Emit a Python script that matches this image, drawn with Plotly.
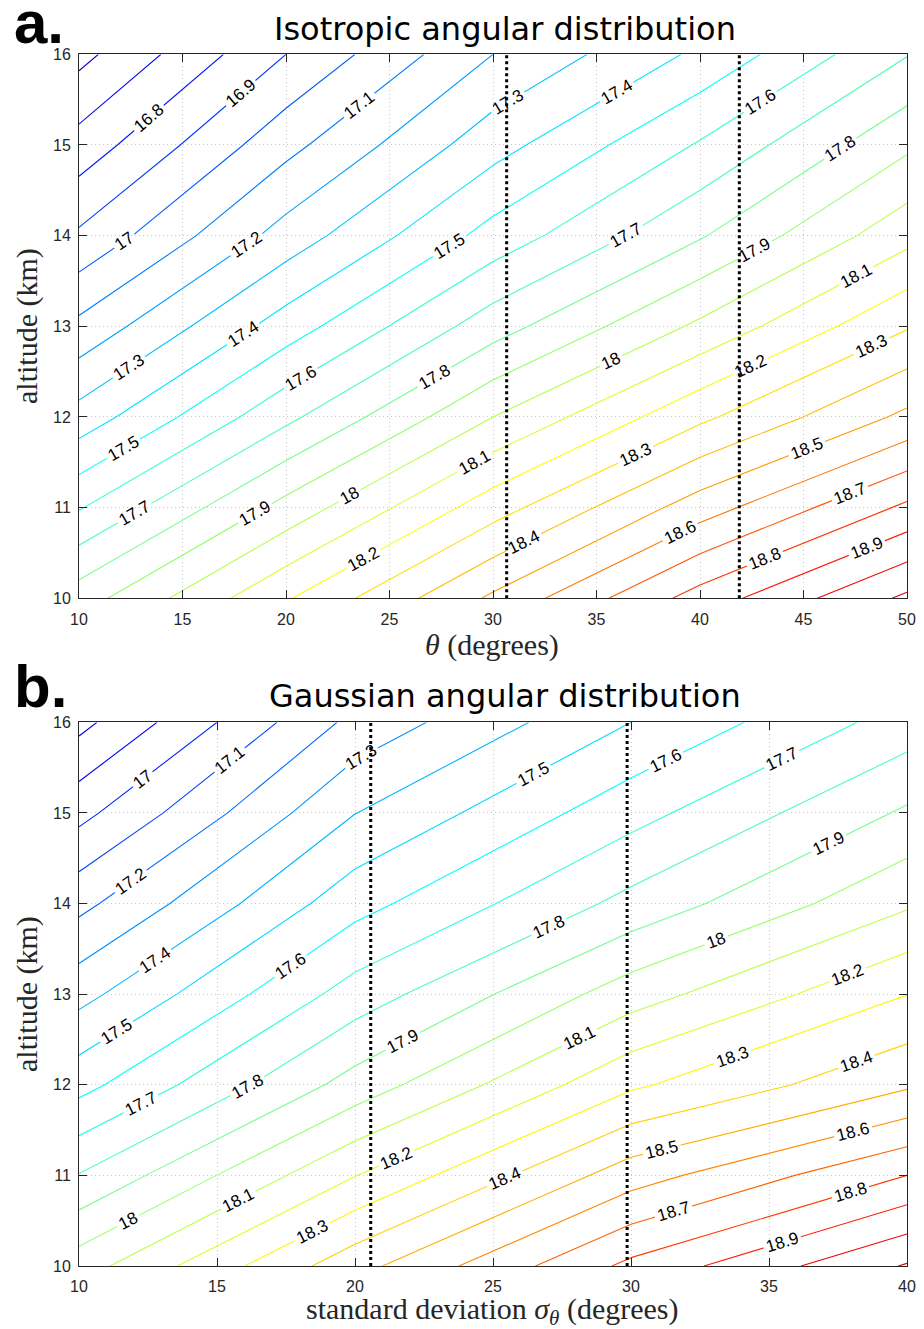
import numpy as np
import plotly.graph_objects as go

# ---------------------------------------------------------------------------
# Data
# ---------------------------------------------------------------------------
altitude_km = [10, 11, 12, 13, 14, 15, 16]

# (a) isotropic angular distribution: rows follow altitude_km, columns theta_deg
theta_deg = [10, 20, 30, 40, 50]
z_isotropic = [
    [17.853, 18.190, 18.518, 18.843, 19.120],
    [17.592, 17.935, 18.256, 18.552, 18.820],
    [17.340, 17.675, 18.000, 18.278, 18.523],
    [17.125, 17.448, 17.755, 18.020, 18.291],
    [16.916, 17.241, 17.538, 17.790, 18.067],
    [16.739, 17.068, 17.360, 17.610, 17.880],
    [16.569, 16.900, 17.200, 17.420, 17.695],
]
iso_marker_theta = [30.66, 41.9]

# (b) Gaussian angular distribution: rows follow altitude_km, columns sigma_deg
sigma_deg = [10, 20, 30, 40]
z_gaussian = [
    [18.054, 18.464, 18.825, 19.109],
    [17.805, 18.197, 18.554, 18.800],
    [17.565, 17.941, 18.283, 18.484],
    [17.366, 17.744, 18.053, 18.298],
    [17.171, 17.563, 17.831, 18.085],
    [16.969, 17.398, 17.663, 17.915],
    [16.770, 17.230, 17.500, 17.744],
]
gauss_marker_sigma = [20.57, 29.86]

iso_xticks = [10, 15, 20, 25, 30, 35, 40, 45, 50]
gauss_xticks = [10, 15, 20, 25, 30, 35, 40]
alt_ticks = [10, 11, 12, 13, 14, 15, 16]

# contour levels every 0.1
LEVEL_START, LEVEL_END, LEVEL_STEP = 16.0, 19.5, 0.1

# ---------------------------------------------------------------------------
# Styling helpers
# ---------------------------------------------------------------------------
W, H = 924, 1329
ML, MR = 79, 17


def px_x(px):
    return (px - ML) / (W - ML - MR)


def px_y(py):
    return 1 - py / H


def jet(t):
    t = min(max(t, 0.0), 1.0)
    r = min(max(1.5 - abs(4 * t - 3), 0), 1)
    g = min(max(1.5 - abs(4 * t - 2), 0), 1)
    b = min(max(1.5 - abs(4 * t - 1), 0), 1)
    return "rgb(%d,%d,%d)" % (round(255 * r), round(255 * g), round(255 * b))


def jet_scale(z, pad=0.2):
    """Jet colours stretched over the (padded) data range, expressed on the level range."""
    zmin, zmax = float(np.min(z)) - pad, float(np.max(z)) + pad
    n = 141
    stops = []
    for k in range(n):
        p = k / (n - 1)
        v = LEVEL_START + p * (LEVEL_END - LEVEL_START)
        stops.append([p, jet((v - zmin) / (zmax - zmin))])
    return stops


TICK_FONT = dict(family="Liberation Sans, Arial, sans-serif", size=16, color="#262626")
LABEL_FONT = dict(family="Liberation Sans, Arial, sans-serif", size=17, color="black")
SERIF = "Liberation Serif, Times New Roman, serif"
SANS = "DejaVu Sans, sans-serif"


def contour(x, z, xa, ya):
    return go.Contour(
        x=x, y=altitude_km, z=z, xaxis=xa, yaxis=ya,
        autocontour=False, zauto=False, zmin=LEVEL_START, zmax=LEVEL_END,
        contours=dict(start=LEVEL_START, end=LEVEL_END, size=LEVEL_STEP,
                      coloring="lines", showlabels=True, labelfont=LABEL_FONT),
        line=dict(width=1.1, smoothing=0),
        colorscale=jet_scale(z), showscale=False, hoverinfo="skip",
    )


fig = go.Figure()
fig.add_trace(contour(theta_deg, z_isotropic, "x", "y"))
fig.add_trace(contour(sigma_deg, z_gaussian, "x2", "y2"))

# vertical dotted markers
shapes = []
for xv in iso_marker_theta:
    shapes.append(dict(type="line", xref="x", yref="y", x0=xv, x1=xv,
                       y0=altitude_km[0], y1=altitude_km[-1],
                       line=dict(color="black", width=3, dash="dot")))
for xv in gauss_marker_sigma:
    shapes.append(dict(type="line", xref="x2", yref="y2", x0=xv, x1=xv,
                       y0=altitude_km[0], y1=altitude_km[-1],
                       line=dict(color="black", width=3, dash="dot")))

axis_common = dict(
    showline=True, linecolor="#262626", linewidth=1, mirror="ticks",
    ticks="inside", ticklen=8, tickwidth=1, tickcolor="#262626",
    showgrid=True, gridcolor="#c8c8c8", griddash="1px,3px", gridwidth=1,
    zeroline=False, tickfont=TICK_FONT, automargin=False,
)

dom_a = [px_y(598.3), px_y(54.3)]
dom_b = [px_y(1266.0), px_y(722.3)]

fig.update_layout(
    width=W, height=H,
    margin=dict(l=ML, r=MR, t=0, b=0),
    paper_bgcolor="white", plot_bgcolor="white",
    showlegend=False,
    xaxis=dict(axis_common, domain=[0, 1], anchor="y", range=[10, 50],
               tickvals=iso_xticks, ticklabelstandoff=6),
    yaxis=dict(axis_common, domain=dom_a, anchor="x", range=[10, 16],
               tickvals=alt_ticks, ticklabelstandoff=4),
    xaxis2=dict(axis_common, domain=[0, 1], anchor="y2", range=[10, 40],
                tickvals=gauss_xticks, ticklabelstandoff=6),
    yaxis2=dict(axis_common, domain=dom_b, anchor="x2", range=[10, 16],
                tickvals=alt_ticks, ticklabelstandoff=4),
    shapes=shapes,
)

ann = []
# panel letters
ann.append(dict(text="<b>a.</b>", x=px_x(12), y=px_y(23), xanchor="left", yanchor="middle",
                font=dict(family="Liberation Sans, Arial, sans-serif", size=60, color="black")))
ann.append(dict(text="<b>b.</b>", x=px_x(12), y=px_y(686), xanchor="left", yanchor="middle",
                font=dict(family="Liberation Sans, Arial, sans-serif", size=60, color="black")))
# titles
ann.append(dict(text="Isotropic angular distribution", x=px_x(505), y=px_y(29),
                xanchor="center", yanchor="middle",
                font=dict(family=SANS, size=32, color="black")))
ann.append(dict(text="Gaussian angular distribution", x=px_x(505), y=px_y(696),
                xanchor="center", yanchor="middle",
                font=dict(family=SANS, size=32, color="black")))
# axis labels
ann.append(dict(text="<i>θ</i> (degrees)", x=px_x(492), y=px_y(645),
                xanchor="center", yanchor="middle",
                font=dict(family=SERIF, size=30, color="#262626")))
ann.append(dict(text="standard deviation <i>σ</i><sub><i>θ</i></sub> (degrees)",
                x=px_x(492), y=px_y(1311), xanchor="center", yanchor="middle",
                font=dict(family=SERIF, size=30, color="#262626")))
for yc in (326, 994):
    ann.append(dict(text="altitude (km)", x=px_x(27), y=px_y(yc), textangle=-90,
                    xanchor="center", yanchor="middle",
                    font=dict(family=SERIF, size=30, color="#262626")))
for a in ann:
    a.update(xref="paper", yref="paper", showarrow=False)
fig.update_layout(annotations=ann)

fig.write_html("out.html")
